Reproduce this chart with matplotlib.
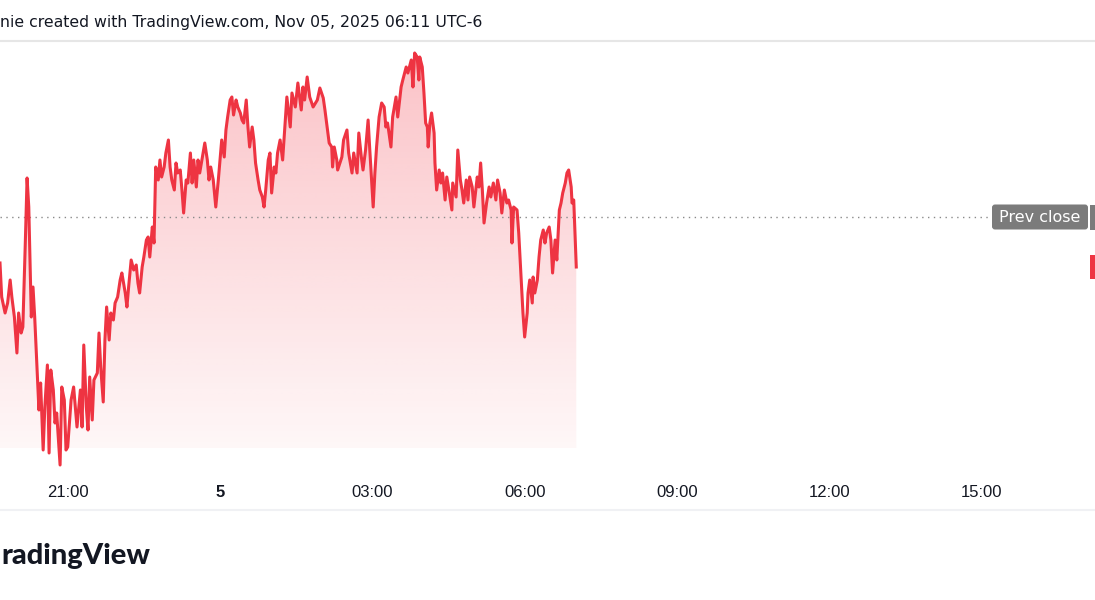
import numpy as np
import matplotlib
matplotlib.use("Agg")
import matplotlib.pyplot as plt
from matplotlib.patches import Polygon, FancyBboxPatch, Rectangle
from matplotlib.lines import Line2D
import matplotlib.transforms as mtransforms

# ---------------- data ----------------
# time: minutes after 19:40 (Nov 4); value: relative price level (chart units)
minutes = [0, 2, 6, 9, 12, 14, 17, 20, 22, 25, 27, 30, 32, 34, 37, 39, 41, 44, 46, 48,
           51, 53, 56, 58, 60, 63, 65, 67, 71, 73, 76, 78, 80, 84, 87, 91, 95, 97, 99, 102,
           104, 106, 109, 111, 115, 117, 119, 122, 124, 126, 129, 131, 134, 136, 139, 142, 144, 148, 150, 152,
           155, 158, 161, 163, 165, 168, 170, 173, 175, 177, 180, 182, 184, 187, 189, 191, 194, 196, 199, 201,
           203, 206, 208, 210, 213, 215, 217, 220, 222, 225, 227, 229, 232, 234, 236, 240, 242, 245, 247, 249,
           252, 255, 258, 260, 262, 265, 267, 269, 272, 274, 276, 279, 281, 284, 286, 288, 291, 293, 295, 298,
           300, 302, 305, 307, 310, 312, 314, 317, 319, 321, 324, 326, 328,
           331, 334, 339, 343, 345, 349, 352, 356, 358, 360, 363, 366, 370, 375, 378, 382, 384, 386, 389, 392,
           393, 395, 398, 399, 404, 406, 410, 412, 416, 418, 422, 424, 427, 429, 432, 435, 437, 441, 443, 445,
           448, 451, 454, 456, 458, 462, 464, 468, 470, 474, 476, 480, 482, 486, 488, 490, 493, 495, 496, 499,
           501, 503, 505, 506, 508, 510, 513, 514, 516, 519, 521, 523, 526, 528, 531, 534, 535, 539, 541, 544,
           546, 548, 551, 553, 555, 558, 560, 564, 566, 568, 570, 572, 575, 578, 580, 583, 586, 588, 591, 593,
           596, 599, 601, 604, 605, 607, 611, 613, 616, 618, 620, 623, 624, 626, 629, 630, 632, 635, 637, 639,
           642, 644, 646, 649, 651, 653, 656, 658, 661, 663, 665, 668, 670, 672, 675, 676, 678, 681]
values = [237, 203, 187, 197, 220, 203, 183, 147, 187, 167, 173, 260, 322, 293, 183, 213, 183, 127, 90, 117,
          50, 93, 135, 47, 130, 110, 77, 87, 35, 113, 100, 50, 53, 100, 113, 73, 110, 73, 155, 93,
          70, 123, 80, 120, 127, 167, 133, 98, 160, 193, 160, 187, 180, 197, 203, 220, 227, 207, 193, 213,
          240, 230, 235, 217, 207, 233, 243, 260, 263, 243, 273, 257, 333, 320, 340, 323, 333, 347, 360, 333,
          320, 310, 337, 327, 330, 310, 287, 320, 317, 347, 317, 340, 313, 340, 327, 347, 357, 340, 320, 333,
          320, 293, 320, 340, 360, 343, 370, 383, 400, 403, 385, 400, 393, 387, 380, 377, 400, 373, 353, 373,
          360, 337, 320, 310, 303, 293, 310, 340, 347, 307, 333, 327, 347,
          360, 340, 403, 373, 407, 393, 417, 390, 413, 400, 423, 403, 393, 400, 412, 402, 390, 377, 357, 353,
          333, 353, 340, 330, 343, 360, 370, 347, 327, 347, 327, 367, 343, 330, 350, 380, 350, 293, 327, 353,
          383, 397, 393, 373, 377, 353, 383, 403, 383, 413, 420, 433, 427, 440, 413, 447, 443, 420, 443, 433,
          407, 377, 373, 353, 377, 387, 367, 337, 310, 330, 317, 327, 300, 323, 307, 290, 317, 303, 350, 320,
          310, 297, 320, 300, 323, 313, 293, 323, 313, 337, 310, 277, 297, 313, 303, 317, 300, 320, 307, 287,
          310, 297, 300, 290, 257, 293, 290, 267, 220, 187, 163, 187, 207, 220, 197, 223, 207, 220, 243, 260,
          270, 257, 267, 273, 260, 227, 260, 240, 290, 297, 307, 317, 327, 330, 313, 297, 300, 233]
prev_close = 283

tick_minutes = [80, 260, 440, 620, 800, 980, 1160]
tick_labels = ["21:00", "5", "03:00", "06:00", "09:00", "12:00", "15:00"]
x_range = (0, 1294)
y_range = (28, 460)
fill_floor = 52

header_text = "nie created with TradingView.com, Nov 05, 2025 06:11 UTC-6"
logo_text = "radingView"
prev_label = "Prev close"

# ---------------- style ----------------
W, H, DPI = 1095, 600, 100
RED = "#EE3442"
GRAY_BOX = "#7b7b7b"

fig = plt.figure(figsize=(W / DPI, H / DPI), dpi=DPI, facecolor="white")
ax = fig.add_axes([0, (H - 472) / H, 1, 432 / H])
ax.set_facecolor("none")

t = np.array(minutes, dtype=float)
v = np.array(values, dtype=float)

# gradient area fill
n = 256
rgba = np.zeros((n, 1, 4))
rgba[..., 0] = 242 / 255
rgba[..., 1] = 54 / 255
rgba[..., 2] = 69 / 255
rgba[:, 0, 3] = np.linspace(0.30, 0.04, n)
im = ax.imshow(rgba, extent=[t[0], t[-1], fill_floor, v.max()], aspect="auto",
               origin="upper", zorder=1, interpolation="bilinear")
poly = Polygon(np.column_stack([np.r_[t, t[-1], t[0]], np.r_[v, fill_floor, fill_floor]]),
               closed=True, facecolor="none", edgecolor="none")
ax.add_patch(poly)
im.set_clip_path(poly)

ax.plot(t, v, color=RED, lw=2.2, zorder=3, solid_joinstyle="round")

ax.set_xlim(*x_range)
ax.set_ylim(*y_range)

# prev close dotted line
ax.axhline(prev_close, xmin=0, xmax=992 / W, color="#8a8a8a", lw=1.0,
           linestyle=(0, (1, 3.2)), zorder=2)

for s in ax.spines.values():
    s.set_visible(False)
ax.set_yticks([])
ax.set_xticks(tick_minutes)
ax.set_xticklabels(tick_labels, fontfamily="Liberation Sans", fontsize=12, color="#131722")
ax.tick_params(axis="x", length=0, pad=9.2)
ax.get_xticklabels()[1].set_fontweight("bold")

# right-side labels in pixel space, positioned from data values
ident = mtransforms.IdentityTransform()
yd_prev = ax.transData.transform((0, prev_close))[1]
yd_last = ax.transData.transform((0, values[-1]))[1]

box = FancyBboxPatch((992, yd_prev - 12.5), 96, 25, boxstyle="round,pad=0,rounding_size=3",
                     facecolor=GRAY_BOX, edgecolor="none", transform=ident)
fig.add_artist(box)
fig.add_artist(Rectangle((1090, yd_prev - 12.5), 20, 25, facecolor=GRAY_BOX,
                         edgecolor="none", transform=ident))
fig.add_artist(Rectangle((1090, yd_last - 12), 20, 24, facecolor=RED,
                         edgecolor="none", transform=ident))
fig.text(1040, yd_prev, prev_label, transform=ident, ha="center", va="center",
         color="white", fontsize=11.5, family="DejaVu Sans")

# header and separators
fig.text(0, 1 - 22 / H, header_text, ha="left", va="center", fontsize=11.3,
         family="DejaVu Sans", color="#131722")
fig.add_artist(Line2D([0, 1], [1 - 41 / H] * 2, transform=fig.transFigure,
                      color="#e6e6e6", lw=1.5))
fig.add_artist(Line2D([0, 1], [1 - 510 / H] * 2, transform=fig.transFigure,
                      color="#f0f1f4", lw=1.5))

# logo text (left part cropped in the original screenshot)
fig.text(1 / W, 1 - 556 / H, logo_text, ha="left", va="center", fontsize=21,
         fontweight="black", family="Lato", color="#131722")

fig.savefig("out.png", dpi=DPI, facecolor="white")
